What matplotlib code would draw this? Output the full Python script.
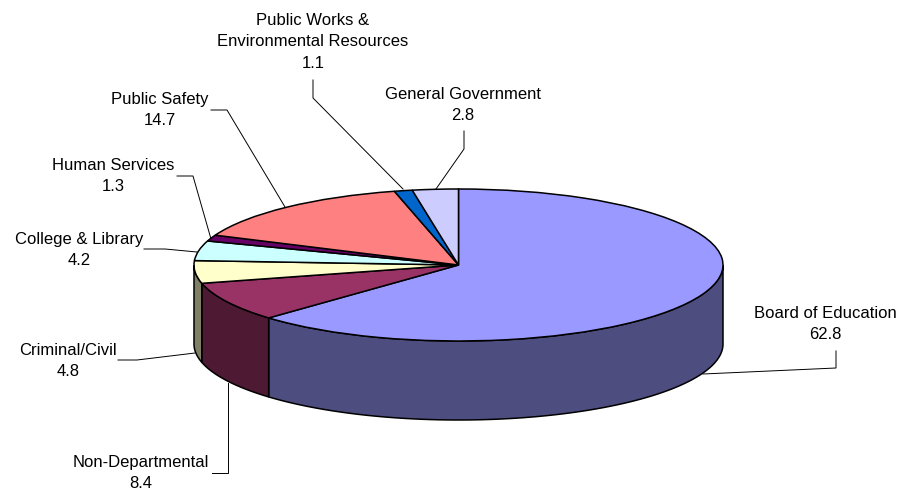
#!/usr/bin/env python
"""Budget split drawn as a tilted 3D-looking pie."""

import matplotlib

matplotlib.use("Agg")
import matplotlib.pyplot as plt
import numpy as np

WIDTH, HEIGHT = 897, 494
CENTER_X, CENTER_Y = 458.5, 265
RADIUS_X, RADIUS_Y = 264.5, 76
DEPTH = 79 / RADIUS_Y

names = [
    "Board of Education",
    "Non-Departmental",
    "Criminal/Civil",
    "College & Library",
    "Human Services",
    "Public Safety",
    "Public Works &\nEnvironmental Resources",
    "General Government",
]
values = [62.8, 8.4, 4.8, 4.2, 1.3, 14.7, 1.1, 2.8]
top_colors = ["#9999ff", "#993366", "#ffffcc", "#ccffff", "#660066", "#ff8080", "#0066cc", "#ccccff"]
side_colors = ["#4d4d80", "#4d1933", "#808066", "#668080", "#330033", "#804040", "#003366", "#666680"]

# label centres and leader paths, in image pixels
label_xy = [(825, 324), (141, 473), (68, 361), (79, 250), (113, 176), (160, 110), (313, 42), (463, 105)]
leaders = [
    [(836, 351), (836, 368), (703, 374)],
    [(212, 473), (228, 473), (228, 383)],
    [(118, 360), (137, 360), (195, 353)],
    [(144, 249), (165, 249), (197, 252)],
    [(177, 176), (193, 176), (211, 239)],
    [(211, 110), (227, 110), (285, 207)],
    [(313, 80), (313, 98), (403, 189)],
    [(464, 131), (464, 149), (436, 189)],
]

fig = plt.figure(figsize=(WIDTH / 100, HEIGHT / 100), dpi=100)
ax = fig.add_axes([0, 0, 1, 1])

# walls first, only the part of each slice that faces the viewer
edges = np.cumsum([0] + values) / sum(values) * 2 * np.pi
for start, end, color in zip(edges[:-1], edges[1:], side_colors):
    lo, hi = max(start, np.pi / 2), min(end, 3 * np.pi / 2)
    if lo >= hi:
        continue
    t = np.linspace(lo, hi, 80)
    x, y = np.sin(t), np.cos(t)
    ax.fill(
        np.r_[x, x[::-1]],
        np.r_[y, y[::-1] - DEPTH],
        facecolor=color,
        edgecolor="black",
        linewidth=1.1,
        zorder=1,
    )

wedges, _ = ax.pie(
    values,
    colors=top_colors,
    startangle=90,
    counterclock=False,
    radius=1,
    wedgeprops={"edgecolor": "black", "linewidth": 1.1},
)
ax.set_aspect("auto")
ax.set_xlim(-CENTER_X / RADIUS_X, (WIDTH - CENTER_X) / RADIUS_X)
ax.set_ylim((CENTER_Y - HEIGHT) / RADIUS_Y, CENTER_Y / RADIUS_Y)
ax.axis("off")

# leaders and labels sit on a pixel overlay
overlay = fig.add_axes([0, 0, 1, 1])
overlay.set_xlim(0, WIDTH)
overlay.set_ylim(HEIGHT, 0)
overlay.axis("off")
for name, value, (lx, ly), path in zip(names, values, label_xy, leaders):
    xs, ys = zip(*path)
    overlay.plot(xs, ys, color="black", linewidth=0.7, solid_joinstyle="miter")
    overlay.text(
        lx,
        ly,
        f"{name}\n{value}",
        ha="center",
        va="center",
        family="Liberation Sans",
        fontsize=12,
        linespacing=1.56,
        color="black",
    )

fig.savefig("out.png", dpi=100)
plt.close(fig)
